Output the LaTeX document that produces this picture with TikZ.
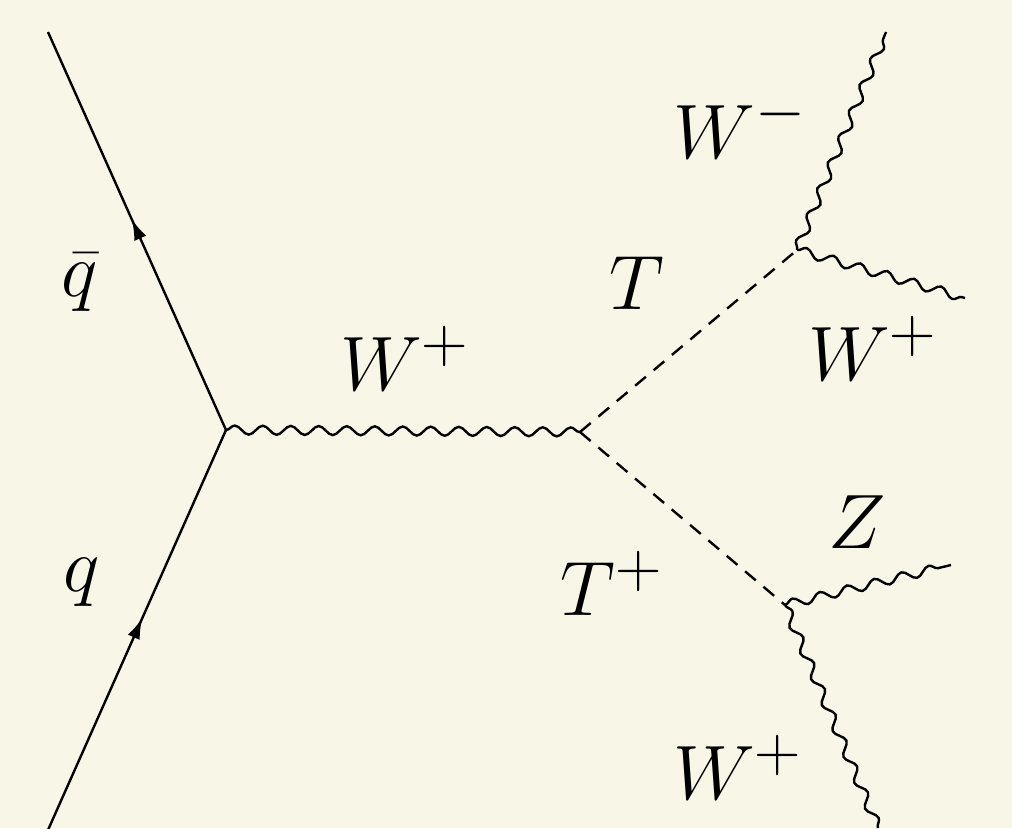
\documentclass[tikz,border=0pt]{standalone}
\usetikzlibrary{decorations.pathmorphing,decorations.markings,arrows.meta}
\definecolor{bg}{RGB}{248,247,231}
\begin{document}
\begin{tikzpicture}[x=1pt,y=-1pt,line width=2.4pt,
  fermion/.style={postaction={decorate},decoration={markings,mark=at position 0.53 with {\arrow{Latex[length=21pt,width=13pt]}}}},
  boson/.style={decorate,decoration={snake,segment length=28pt,amplitude=4.5pt}},
  scalar/.style={dash pattern=on 14pt off 10pt},
  lbl/.style={font=\Huge,scale=3.1,inner sep=0pt}]
\fill[bg] (0,0) rectangle (1012,828);
\useasboundingbox (0,0) rectangle (1012,828);
\coordinate (qb) at (48,32);
\coordinate (q) at (48,830);
\coordinate (v1) at (226,430);
\coordinate (v2) at (580,432);
\coordinate (v3) at (797,250);
\coordinate (v4) at (785,605);
\coordinate (wm) at (886,32);
\coordinate (wp1) at (965,298);
\coordinate (z) at (951,565);
\coordinate (wp2) at (878,828);
\draw[fermion] (q) -- (v1);
\draw[fermion] (v1) -- (qb);
\draw[boson] (v1) -- (v2);
\draw[scalar] (v2) -- (v3);
\draw[scalar] (v2) -- (v4);
\draw[boson] (v3) -- (wm);
\draw[boson] (v3) -- (wp1);
\draw[boson] (v4) -- (z);
\draw[boson] (v4) -- (wp2);
\node[lbl] (lqb) at (80,282) {$\bar q$};
\node[lbl] (lq) at (82,582) {$q$};
\node[lbl] (lw1) at (405,358) {$W^+$};
\node[lbl] (lt) at (637,283) {$T$};
\node[lbl] (ltp) at (612,583) {$T^+$};
\node[lbl] (lwm) at (740,126) {$W^-$};
\node[lbl] (lwp1) at (873,348) {$W^+$};
\node[lbl] (lz) at (857,522) {$Z$};
\node[lbl] (lwp2) at (738,767) {$W^+$};
\end{tikzpicture}
\end{document}
